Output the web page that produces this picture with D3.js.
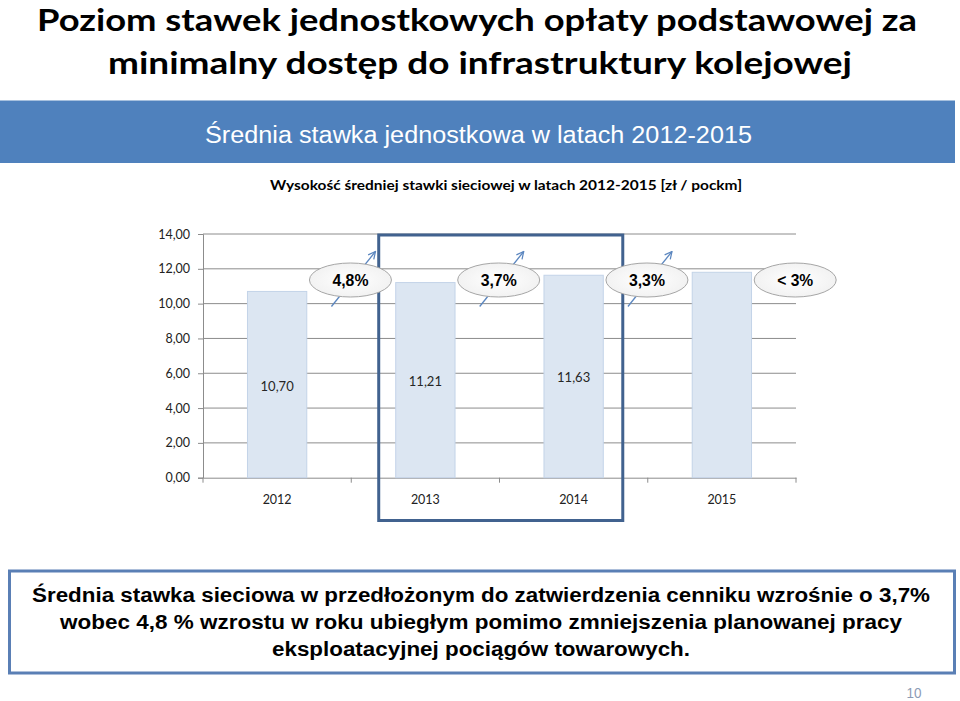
<!DOCTYPE html>
<html>
<head>
<meta charset="utf-8">
<script src="https://cdn.jsdelivr.net/npm/d3@7/dist/d3.min.js"></script>
<style>
  html, body { margin: 0; padding: 0; background: #ffffff; }
  svg { display: block; }
</style>
</head>
<body>
<svg id="chart" width="960" height="701"></svg>
<script>
// ---------- DATA ----------
const years = ["2012", "2013", "2014", "2015"];
const values = [10.70, 11.21, 11.63, 11.80];
const valueLabels = ["10,70", "11,21", "11,63", ""];
const growthLabels = ["4,8%", "3,7%", "3,3%", "< 3%"];
const growthArrows = [true, true, true, false];
const yTicks = [0, 2, 4, 6, 8, 10, 12, 14];

const titleLines = [
  "Poziom stawek jednostkowych opłaty podstawowej za",
  "minimalny dostęp do infrastruktury kolejowej"
];
const bandTitle = "Średnia stawka jednostkowa w latach 2012-2015";
const chartTitle = "Wysokość średniej stawki sieciowej w latach 2012-2015 [zł / pockm]";
const noteLines = [
  "Średnia stawka sieciowa w przedłożonym do zatwierdzenia cenniku wzrośnie o 3,7%",
  "wobec 4,8 % wzrostu w roku ubiegłym pomimo zmniejszenia planowanej pracy",
  "eksploatacyjnej pociągów towarowych."
];
const pageNumber = "10";

// ---------- LAYOUT ----------
const svg = d3.select("#chart");
const plot = { left: 203, right: 796, top: 234, bottom: 477.7 };
const calibri = "Lato, 'Open Sans', sans-serif";
const arial = "'Liberation Sans', Arial, sans-serif";

// Title
const titleSpecs = [
  { y: 31, x0: 37, x1: 917 },
  { y: 74, x0: 108, x1: 852 }
];
titleLines.forEach((t, i) => {
  const s = titleSpecs[i];
  svg.append("text")
    .attr("x", (s.x0 + s.x1) / 2).attr("y", s.y)
    .attr("text-anchor", "middle")
    .attr("font-family", calibri).attr("font-weight", 700)
    .attr("font-size", 31).attr("fill", "#000")
    .attr("textLength", s.x1 - s.x0).attr("lengthAdjust", "spacingAndGlyphs")
    .text(t);
});

// Blue band
svg.append("rect").attr("x", 0).attr("y", 100.5).attr("width", 955).attr("height", 62.5)
  .attr("fill", "#4f81bd");
svg.append("text")
  .attr("x", 478.5).attr("y", 142.5).attr("text-anchor", "middle")
  .attr("font-family", arial).attr("font-size", 23).attr("fill", "#ffffff")
  .attr("textLength", 547).attr("lengthAdjust", "spacingAndGlyphs")
  .text(bandTitle);

// Chart title
svg.append("text")
  .attr("x", 506).attr("y", 190).attr("text-anchor", "middle")
  .attr("font-family", calibri).attr("font-weight", 700)
  .attr("font-size", 13.5).attr("fill", "#000")
  .attr("textLength", 472).attr("lengthAdjust", "spacingAndGlyphs")
  .text(chartTitle);

// Scales
const x = d3.scaleBand().domain(years).range([plot.left, plot.right])
  .paddingInner(0.6).paddingOuter(0.3);
const y = d3.scaleLinear().domain([0, 14]).range([plot.bottom, plot.top]);
const step = x.step();
const boundary = i => plot.left + i * step;

// Gridlines
svg.append("g").selectAll("line").data(yTicks.filter(d => d > 0)).join("line")
  .attr("x1", plot.left).attr("x2", plot.right)
  .attr("y1", d => y(d)).attr("y2", d => y(d))
  .attr("stroke", "#8c8c8c").attr("stroke-width", 1);

// Y axis
const fmt = d => d3.format(".2f")(d).replace(".", ",");
const yAxis = svg.append("g").attr("transform", `translate(${plot.left},0)`)
  .call(d3.axisLeft(y).tickValues(yTicks).tickFormat(fmt).tickSize(5).tickPadding(8));
yAxis.select(".domain").attr("stroke", "#8c8c8c");
yAxis.selectAll(".tick line").attr("stroke", "#8c8c8c");
yAxis.selectAll("text").attr("font-family", calibri).attr("font-size", 12.5).attr("fill", "#222");

// X axis
const xAxis = svg.append("g").attr("transform", `translate(0,${plot.bottom})`)
  .call(d3.axisBottom(x).tickSize(0).tickPadding(17));
xAxis.select(".domain").attr("stroke", "#8c8c8c");
xAxis.selectAll("text").attr("font-family", calibri).attr("font-size", 12.5).attr("fill", "#222");
svg.append("g").selectAll("line").data(d3.range(years.length + 1)).join("line")
  .attr("x1", i => boundary(i)).attr("x2", i => boundary(i))
  .attr("y1", plot.bottom).attr("y2", plot.bottom + 5)
  .attr("stroke", "#8c8c8c");

// Bars
svg.append("g").selectAll("rect").data(years).join("rect")
  .attr("x", d => x(d)).attr("width", x.bandwidth())
  .attr("y", (d, i) => y(values[i])).attr("height", (d, i) => y(0) - y(values[i]))
  .attr("fill", "#dce6f2").attr("stroke", "#c3d3e8").attr("stroke-width", 1);

// Value labels
svg.append("g").selectAll("text").data(years).join("text")
  .attr("x", d => x(d) + x.bandwidth() / 2)
  .attr("y", (d, i) => (y(values[i]) + y(0)) / 2 + 6)
  .attr("text-anchor", "middle")
  .attr("font-family", calibri).attr("font-size", 13).attr("fill", "#262626")
  .text((d, i) => valueLabels[i]);

// Highlight frame around 2013-2014
svg.append("rect")
  .attr("x", x("2013") - 17).attr("y", plot.top + 1)
  .attr("width", (x("2014") + x.bandwidth() + 19.5) - (x("2013") - 17))
  .attr("height", 520.5 - (plot.top + 1))
  .attr("fill", "none").attr("stroke", "#41628f").attr("stroke-width", 3);

// Growth arrows and bubbles
const defs = svg.append("defs");
defs.append("marker").attr("id", "arrowhead")
  .attr("viewBox", "0 0 10 10").attr("refX", 9).attr("refY", 5)
  .attr("markerWidth", 9).attr("markerHeight", 9).attr("orient", "auto")
  .attr("markerUnits", "userSpaceOnUse")
  .append("path").attr("d", "M1,1 L9,5 L1,9").attr("fill", "none")
  .attr("stroke", "#5b86bf").attr("stroke-width", 1.4);

const grad = defs.append("radialGradient").attr("id", "bubbleFill");
grad.append("stop").attr("offset", "0%").attr("stop-color", "#ffffff");
grad.append("stop").attr("offset", "100%").attr("stop-color", "#f2f2f2");

const bubbleY = 280;
const g = svg.append("g");
growthLabels.forEach((lab, i) => {
  const cx = boundary(i + 1) - 0.8;
  if (growthArrows[i]) {
    g.append("line")
      .attr("x1", cx - 19).attr("y1", bubbleY + 26.5)
      .attr("x2", cx + 25).attr("y2", bubbleY - 28.5)
      .attr("stroke", "#5b86bf").attr("stroke-width", 1.3)
      .attr("marker-end", "url(#arrowhead)");
  }
  g.append("ellipse").attr("cx", cx).attr("cy", bubbleY)
    .attr("rx", 41).attr("ry", 17)
    .attr("fill", "url(#bubbleFill)").attr("stroke", "#a6a6a6").attr("stroke-width", 1);
  g.append("text").attr("x", cx).attr("y", bubbleY + 6)
    .attr("text-anchor", "middle")
    .attr("font-family", arial).attr("font-weight", 700).attr("font-size", 16)
    .attr("fill", "#000")
    .attr("textLength", lab.length > 4 ? 38 : 36).attr("lengthAdjust", "spacingAndGlyphs")
    .text(lab);
});

// Bottom note box
svg.append("rect").attr("x", 9.5).attr("y", 571).attr("width", 945).attr("height", 102)
  .attr("fill", "#ffffff").attr("stroke", "#5a7fb5").attr("stroke-width", 3);
const noteSpecs = [
  { y: 602, x0: 32, x1: 930 },
  { y: 629, x0: 60, x1: 902 },
  { y: 656, x0: 272, x1: 690 }
];
noteLines.forEach((t, i) => {
  const s = noteSpecs[i];
  svg.append("text")
    .attr("x", (s.x0 + s.x1) / 2).attr("y", s.y)
    .attr("text-anchor", "middle")
    .attr("font-family", arial).attr("font-weight", 700)
    .attr("font-size", 20).attr("fill", "#000")
    .attr("textLength", s.x1 - s.x0).attr("lengthAdjust", "spacingAndGlyphs")
    .text(t);
});

// Page number
svg.append("text").attr("x", 914).attr("y", 698).attr("text-anchor", "middle")
  .attr("font-family", arial).attr("font-size", 14).attr("fill", "#8c9bb5")
  .attr("textLength", 15).attr("lengthAdjust", "spacingAndGlyphs")
  .text(pageNumber);
</script>
</body>
</html>
